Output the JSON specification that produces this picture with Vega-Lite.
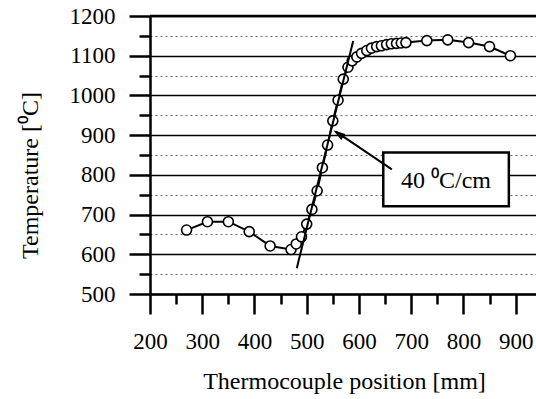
{
  "$schema": "https://vega.github.io/schema/vega-lite/v6.json",
  "width": 386,
  "height": 278,
  "autosize": "none",
  "padding": {"left": 150, "top": 16, "right": 0, "bottom": 105},
  "background": "white",
  "config": {
    "view": {"stroke": null},
    "font": "Liberation Serif",
    "axis": {"labelFont": "Liberation Serif", "titleFont": "Liberation Serif"}
  },
  "datasets": {
    "pts": [
      {"x": 270, "y": 661}, {"x": 310, "y": 682}, {"x": 350, "y": 682}, {"x": 390, "y": 657},
      {"x": 430, "y": 621}, {"x": 470, "y": 612}, {"x": 480, "y": 626}, {"x": 490, "y": 644},
      {"x": 500, "y": 676}, {"x": 510, "y": 713}, {"x": 520, "y": 760}, {"x": 530, "y": 818},
      {"x": 540, "y": 875}, {"x": 550, "y": 936}, {"x": 560, "y": 988}, {"x": 570, "y": 1041},
      {"x": 579, "y": 1071}, {"x": 587, "y": 1087}, {"x": 596, "y": 1097}, {"x": 605, "y": 1106},
      {"x": 615, "y": 1113}, {"x": 624, "y": 1119}, {"x": 634, "y": 1123}, {"x": 643, "y": 1125},
      {"x": 653, "y": 1128}, {"x": 662, "y": 1130}, {"x": 672, "y": 1131}, {"x": 681, "y": 1132},
      {"x": 690, "y": 1133}, {"x": 730, "y": 1138}, {"x": 770, "y": 1140}, {"x": 810, "y": 1133},
      {"x": 850, "y": 1123}, {"x": 890, "y": 1100}
    ],
    "fit": [{"x": 481, "y": 565}, {"x": 589, "y": 1137}],
    "arrow": [{"x": 663, "y": 814}, {"x": 556, "y": 909}],
    "head": [{"x": 560.5, "y": 904}],
    "box": [{"x": 646.6, "x2": 887, "y": 856, "y2": 721}],
    "label": [{"x": 766.6, "y": 784, "label": "40 ⁰C/cm"}],
    "top": [{"x": 200, "x2": 939, "y": 1200}]
  },
  "encoding": {
    "x": {
      "field": "x", "type": "quantitative",
      "scale": {"domain": [200, 939], "nice": false, "zero": false},
      "axis": {
        "title": "Thermocouple position [mm]",
        "values": [200, 250, 300, 350, 400, 450, 500, 550, 600, 650, 700, 750, 800, 850, 900],
        "format": "d",
        "labelExpr": "datum.value % 100 === 0 ? datum.label : ''",
        "grid": false,
        "tickSize": {"condition": {"test": "datum.value % 100 !== 0", "value": 10}, "value": 20},
        "tickWidth": 2.5, "tickColor": "black",
        "domainColor": "black", "domainWidth": 2.5,
        "labelFont": "Liberation Serif", "labelFontSize": 23, "labelColor": "black",
        "labelPadding": 16, "labelFlush": false,
        "titleFont": "Liberation Serif", "titleFontSize": 24, "titleFontWeight": "normal", "titleColor": "black",
        "titleX": 194, "titleY": 94, "titleBaseline": "alphabetic", "titleAlign": "center"
      }
    },
    "y": {
      "field": "y", "type": "quantitative",
      "scale": {"domain": [500, 1200], "nice": false, "zero": false},
      "axis": {
        "title": "Temperature [⁰C]",
        "values": [500, 550, 600, 650, 700, 750, 800, 850, 900, 950, 1000, 1050, 1100, 1150, 1200],
        "format": "d",
        "labelExpr": "datum.value % 100 === 0 ? datum.label : ''",
        "grid": true,
        "gridColor": {"condition": {"test": "datum.value % 100 !== 0", "value": "#666666"}, "value": "black"},
        "gridDash": {"condition": {"test": "datum.value % 100 !== 0", "value": [2, 3]}, "value": []},
        "gridWidth": {"condition": {"test": "datum.value % 100 !== 0", "value": 1}, "value": 1.3},
        "tickSize": {"condition": {"test": "datum.value % 100 !== 0", "value": 11}, "value": 21},
        "tickWidth": 2.5, "tickColor": "black",
        "domainColor": "black", "domainWidth": 2.5,
        "labelFont": "Liberation Serif", "labelFontSize": 23, "labelColor": "black",
        "labelPadding": 14, "labelFlush": false,
        "titleFont": "Liberation Serif", "titleFontSize": 24, "titleFontWeight": "normal", "titleColor": "black",
        "titleAngle": -90, "titleX": -113, "titleY": 159, "titleBaseline": "alphabetic", "titleAlign": "center"
      }
    }
  },
  "layer": [
    {
      "data": {"name": "top"},
      "mark": {"type": "rule", "color": "black", "strokeWidth": 2.5},
      "encoding": {"x2": {"field": "x2"}}
    },
    {
      "data": {"name": "box"},
      "mark": {"type": "rect", "fill": "white", "stroke": "black", "strokeWidth": 2.5},
      "encoding": {"x2": {"field": "x2"}, "y2": {"field": "y2"}}
    },
    {
      "data": {"name": "label"},
      "mark": {"type": "text", "font": "Liberation Serif", "fontSize": 24, "color": "black", "align": "center", "baseline": "middle"},
      "encoding": {"text": {"field": "label"}}
    },
    {
      "data": {"name": "pts"},
      "mark": {"type": "line", "color": "black", "strokeWidth": 2}
    },
    {
      "data": {"name": "pts"},
      "mark": {"type": "point", "shape": "circle", "size": 100, "filled": false, "fill": "white", "fillOpacity": 1, "stroke": "black", "strokeWidth": 1.6, "opacity": 1}
    },
    {
      "data": {"name": "fit"},
      "mark": {"type": "line", "color": "black", "strokeWidth": 2}
    },
    {
      "data": {"name": "arrow"},
      "mark": {"type": "line", "color": "black", "strokeWidth": 2}
    },
    {
      "data": {"name": "head"},
      "mark": {"type": "point", "shape": "M0,-1L0.6,1L-0.6,1Z", "size": 144, "filled": true, "color": "black", "opacity": 1, "angle": 304}
    }
  ]
}
